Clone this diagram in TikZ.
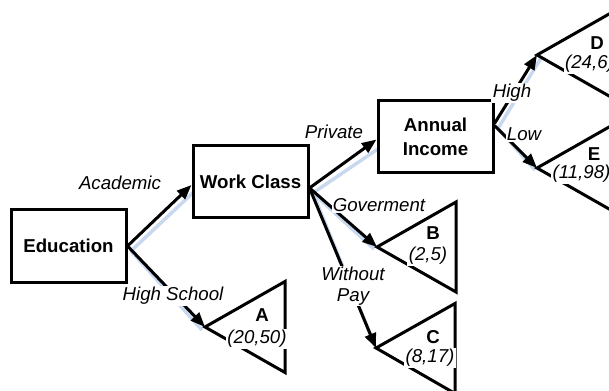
\documentclass[tikz,border=0pt]{standalone}
\usepackage{fontspec}
\setmainfont{Liberation Sans}
\usetikzlibrary{arrows.meta,calc}
\definecolor{shadowblue}{RGB}{200,216,238}
\begin{document}
\begin{tikzpicture}[x=0.75pt,y=-0.75pt,
  box/.style={draw,line width=2.25pt,fill=white,minimum width=86.25pt,minimum height=54pt,inner sep=0pt,
    font=\fontsize{14}{18}\selectfont\bfseries,align=center},
  leaf/.style={draw,line width=2.25pt,fill=white,line join=miter},
  conn/.style={line width=2.25pt,-{Triangle[length=11pt,width=8.5pt]}},
  shade/.style={line width=2.6pt,shadowblue},
  lbl/.style={fill=white,inner sep=1pt,font=\fontsize{14}{16}\selectfont\itshape,align=center},
  letter/.style={inner sep=0pt,font=\fontsize{14}{16}\selectfont\bfseries},
  val/.style={fill=white,inner sep=1pt,font=\fontsize{14}{16}\selectfont\itshape}]
\useasboundingbox (0,0) rectangle (609,391);
\clip (0,0) rectangle (609,391);
% leaf apexes
\coordinate (tA) at (205,327);
\coordinate (tB) at (377,247);
\coordinate (tC) at (376,348);
\coordinate (tD) at (537,55);
\coordinate (tE) at (537,168);
% box coordinates (for shadows)
\coordinate (cEdu) at (68.5,246);
\coordinate (cWC) at (250.5,182);
\coordinate (cAI) at (435.5,136.5);
% shadows
\draw[shade] ($(cEdu)+(62.5,5)$) -- ($(cWC)+(-52.5,6)$);
\draw[shade] ($(cEdu)+(62.5,5)$) -- ($(tA)+(-3,3)$);
\draw[shade] ($(cWC)+(62.5,11)$) -- ($(cAI)+(-52.5,9)$);
\draw[shade] ($(cWC)+(62.5,11)$) -- ($(tB)+(-3,2)$);
\draw[shade] ($(cWC)+(62.5,11)$) -- ($(tC)+(-1,-2)$);
\draw[shade] ($(cAI)+(62.5,-8)$) -- ($(tD)+(4,3)$);
\draw[shade] ($(cAI)+(62.5,-8)$) -- ($(tE)+(-2,2)$);
% leaves
\draw[leaf] (tA) -- ++(80,-45.5) -- ++(0,91) -- cycle;
\draw[leaf] (tB) -- ++(79,-45) -- ++(0,90) -- cycle;
\draw[leaf] (tC) -- ++(79,-44.5) -- ++(0,90) -- cycle;
\draw[leaf] (tD) -- ++(80,-45.5) -- ++(0,91) -- cycle;
\draw[leaf] (tE) -- ++(80,-45.5) -- ++(0,91) -- cycle;
% boxes
\node[box] (edu) at (cEdu) {Education};
\node[box] (wc) at (cWC) {Work Class};
\node[box] (ai) at (cAI) {Annual\\Income};
% connectors
\draw[conn] (edu.east) -- ($(wc.west)+(0,3)$);
\draw[conn] (edu.east) -- (tA);
\draw[conn] ($(wc.east)+(0,6)$) -- ($(ai.west)+(0,3)$);
\draw[conn] ($(wc.east)+(0,6)$) -- (tB);
\draw[conn] ($(wc.east)+(0,6)$) -- (tC);
\draw[conn] ($(ai.east)+(0,-13)$) -- (tD);
\draw[conn] ($(ai.east)+(0,-11)$) -- (tE);
% connector labels
\node[lbl] (lAcad) at (120,183) {Academic};
\node[lbl] (lHS) at (173,296) {High School};
\node[lbl] (lPriv) at (334,132) {Private};
\node[lbl] (lGov) at (379,205) {Goverment};
\node[lbl,font=\fontsize{14}{15.5}\selectfont\itshape] (lWP) at (353,286) {Without\\Pay};
\node[lbl] (lHigh) at (512,93) {High};
\node[lbl] (lLow) at (524,134) {Low};
% leaf texts
\node[letter] (nA) at (262,315) {A};
\node[val] (vA) at (257,339) {(20,50)};
\node[letter] (nB) at (433,233) {B};
\node[val] (vB) at (428,256) {(2,5)};
\node[letter] (nC) at (433,337) {C};
\node[val] (vC) at (430,358) {(8,17)};
\node[letter] (nD) at (597,43) {D};
\node[val] (vD) at (589.5,64) {(24,6)};
\node[letter] (nE) at (594,154) {E};
\node[val] (vE) at (581.5,174) {(11,98)};
\end{tikzpicture}
\end{document}
